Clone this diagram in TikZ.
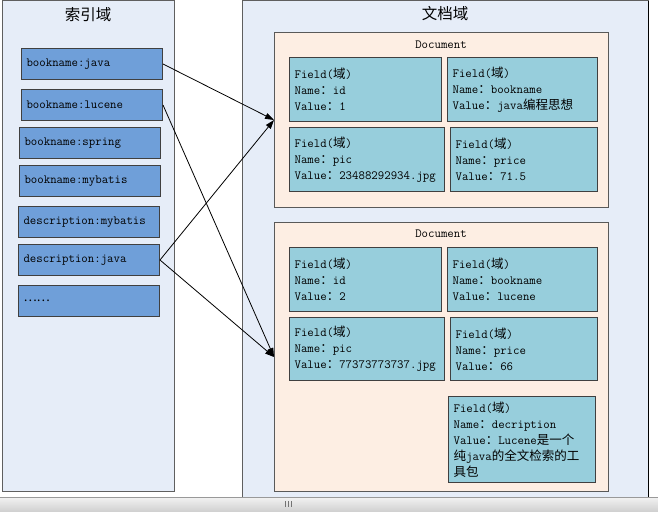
\documentclass[tikz,border=0pt]{standalone}
\usepackage{fontspec}
\newfontfamily\cjk{Noto Sans CJK SC}
\usetikzlibrary{arrows.meta}

\definecolor{panelfill}{RGB}{230,237,248}
\definecolor{panelline}{RGB}{95,95,95}
\definecolor{termfill}{RGB}{111,159,217}
\definecolor{docfill}{RGB}{253,238,227}
\definecolor{fieldfill}{RGB}{151,206,220}

\newcommand\zh[1]{{\cjk #1}}
\newcommand\mono{\ttfamily\fontsize{12.5}{16}\selectfont}
\newcommand\moreterms{\zh{……}}

\tikzset{
    panel/.style={
        fill=panelfill,
        draw=panelline,
        line width=1pt},
    term/.style={
        fill=termfill,
        draw=black!75,
        line width=1pt,
        anchor=north west,
        minimum height=31pt,
        text width=131pt,
        inner xsep=5pt,
        align=left,
        font=\mono},
    docbox/.style={
        fill=docfill,
        draw=black!65,
        line width=1pt,
        anchor=north west},
    fieldbox/.style 2 args={
        fill=fieldfill,
        draw=black!75,
        line width=1.2pt,
        anchor=north west,
        text width=#1,
        minimum height=#2,
        inner xsep=5pt,
        align=left,
        font=\mono},
    title/.style={
        font=\cjk\fontsize{15.5}{18}\selectfont},
    link/.style={
        draw=black,
        line width=0.8pt,
        -{Triangle[length=9pt, width=6pt]}}
}

\begin{document}
\begin{tikzpicture}[x=1pt, y=-1pt]
\useasboundingbox (0,0) rectangle (658,511);

% the two areas
\path [panel] (2,1) rectangle (174,491);
\path [panel] (242,1) rectangle (648,500);
\draw [black, line width=1pt] (648,1) -- (648,500);
\node [title] (index title) at (88,15) {索引域};
\node [title] (doc title) at (445,14) {文档域};

% index terms
\foreach \name/\x/\y/\txt in {
    t1/21/48/bookname:java,
    t2/21/89/bookname:lucene,
    t3/19/127/bookname:spring,
    t4/19/165/bookname:mybatis,
    t5/18/206/description:mybatis,
    t6/18/244/description:java,
    t7/18/285/\moreterms}{
\node [term] (\name) at (\x,\y) {\txt};
}

% first document
\node [docbox, minimum width=334pt, minimum height=175pt] (doc1) at (274,32) {};
\node [font=\mono] (doc1 label) at (441,45) {Document};
\node [fieldbox={142pt}{64pt}] (f11) at (289,57) {Field(\zh{域})\\Name\zh{：}id\\Value\zh{：}1};
\node [fieldbox={140pt}{64pt}] (f12) at (447,57) {Field(\zh{域})\\Name\zh{：}bookname\\Value\zh{：}java\zh{编程思想}};
\node [fieldbox={145pt}{64pt}] (f13) at (289,127) {Field(\zh{域})\\Name\zh{：}pic\\Value\zh{：}23488292934.jpg};
\node [fieldbox={137pt}{64pt}] (f14) at (450,127) {Field(\zh{域})\\Name\zh{：}price\\Value\zh{：}71.5};

% second document
\node [docbox, minimum width=334pt, minimum height=269pt] (doc2) at (274,222) {};
\node [font=\mono] (doc2 label) at (441,234) {Document};
\node [fieldbox={142pt}{64pt}] (f21) at (289,247) {Field(\zh{域})\\Name\zh{：}id\\Value\zh{：}2};
\node [fieldbox={140pt}{64pt}] (f22) at (447,247) {Field(\zh{域})\\Name\zh{：}bookname\\Value\zh{：}lucene};
\node [fieldbox={145pt}{63pt}] (f23) at (289,317) {Field(\zh{域})\\Name\zh{：}pic\\Value\zh{：}77373773737.jpg};
\node [fieldbox={137pt}{63pt}] (f24) at (450,317) {Field(\zh{域})\\Name\zh{：}price\\Value\zh{：}66};
\node [fieldbox={137pt}{86pt}] (f25) at (448,396) {Field(\zh{域})\\Name\zh{：}decription\\Value\zh{：}Lucene\zh{是一个}\\\zh{纯}java\zh{的全文检索的工}\\\zh{具包}};

% links from terms to documents
\draw [link] (t1.east) -- (doc1.west);
\draw [link] (t6.east) -- (doc1.west);
\draw [link] (t2.east) -- (doc2.west);
\draw [link] (t6.east) -- (doc2.west);

% scroll bar
\shade [top color=black!5, bottom color=black!18] (0,497) rectangle (658,511);
\draw [black!40] (0,497) -- (658,497);
\foreach \gx in {285,288,291}{
\draw [black!55, line width=0.8pt] (\gx,501) -- (\gx,507);
}

\end{tikzpicture}
\end{document}
